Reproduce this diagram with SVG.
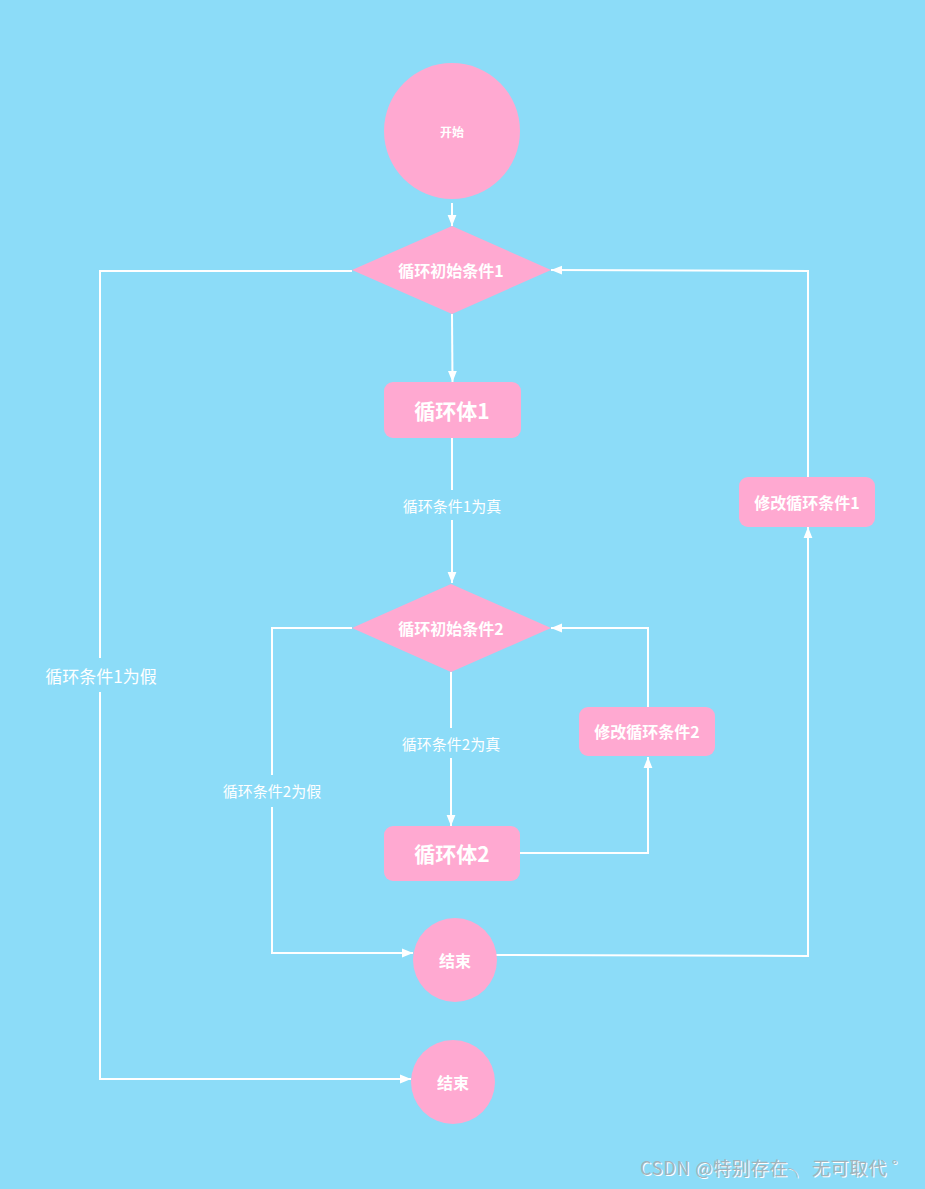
<svg xmlns="http://www.w3.org/2000/svg" width="925" height="1189" viewBox="0 0 925 1189">
<style>
.n{fill:#FFA9D1}
.t{fill:#fff;font-family:"Noto Sans CJK SC","Noto Sans",sans-serif;font-weight:bold;text-anchor:middle;dominant-baseline:central}
.l{fill:#fff;font-family:"Noto Sans CJK SC","Noto Sans",sans-serif;text-anchor:middle;dominant-baseline:central}
.c{fill:none;stroke:#fff;stroke-width:2}
.lb{fill:#8CDCF8}
</style>
<defs>
<marker id="ar" viewBox="0 0 10 10" refX="10" refY="5" markerWidth="11" markerHeight="11" orient="auto" markerUnits="userSpaceOnUse">
<path d="M0,1 L10,5 L0,9 z" fill="#fff"/>
</marker>
</defs>
<rect width="925" height="1189" fill="#8CDCF8"/>
<g id="connectors">
<path class="c" d="M452,203 V226" marker-end="url(#ar)"/>
<path class="c" d="M452,314 L452.5,382" marker-end="url(#ar)"/>
<path class="c" d="M452,438 V583" marker-end="url(#ar)"/>
<path class="c" d="M451,672 V826" marker-end="url(#ar)"/>
<path class="c" d="M519,853 H648 V757" marker-end="url(#ar)"/>
<path class="c" d="M648,707 V628 H551" marker-end="url(#ar)"/>
<path class="c" d="M352,628 H272 V953 H413" marker-end="url(#ar)"/>
<path class="c" d="M496,955 L808,956 V527" marker-end="url(#ar)"/>
<path class="c" d="M808,477 V271 L551,270" marker-end="url(#ar)"/>
<path class="c" d="M352,271 H100 V1079 H411" marker-end="url(#ar)"/>
<rect class="lb" x="395" y="490" width="115" height="30"/>
<text class="l" x="452" y="505" font-size="15">循环条件1为真</text>
<rect class="lb" x="395" y="728" width="115" height="30"/>
<text class="l" x="451" y="743" font-size="15">循环条件2为真</text>
<rect class="lb" x="215" y="775" width="115" height="32"/>
<text class="l" x="272" y="790" font-size="15">循环条件2为假</text>
<rect class="lb" x="40" y="658" width="122" height="34"/>
<text class="l" x="101" y="675" font-size="17">循环条件1为假</text>
</g>
<g id="start">
<circle class="n" cx="452" cy="131" r="68"/>
<text class="t" x="452" y="131" font-size="12">开始</text>
</g>
<g id="cond1">
<polygon class="n" points="452,226 551,270 452,314 352,270"/>
<text class="t" x="451" y="270" font-size="16">循环初始条件1</text>
</g>
<g id="body1">
<rect class="n" x="384" y="382" width="137" height="56" rx="9"/>
<text class="t" x="452" y="410" font-size="21">循环体1</text>
</g>
<g id="mod1">
<rect class="n" x="739" y="477" width="136" height="50" rx="9"/>
<text class="t" x="807" y="502" font-size="16">修改循环条件1</text>
</g>
<g id="cond2">
<polygon class="n" points="451,584 551,628 451,672 352,628"/>
<text class="t" x="451" y="628" font-size="16">循环初始条件2</text>
</g>
<g id="mod2">
<rect class="n" x="579" y="707" width="136" height="49" rx="9"/>
<text class="t" x="647" y="731" font-size="16">修改循环条件2</text>
</g>
<g id="body2">
<rect class="n" x="384" y="826" width="136" height="55" rx="9"/>
<text class="t" x="452" y="853" font-size="21">循环体2</text>
</g>
<g id="end1">
<circle class="n" cx="455" cy="960" r="42"/>
<text class="t" x="455" y="960" font-size="16">结束</text>
</g>
<g id="end2">
<circle class="n" cx="453" cy="1082" r="42"/>
<text class="t" x="453" y="1082" font-size="16">结束</text>
</g>
<g id="watermark" font-family="'Noto Sans CJK SC','Noto Sans',sans-serif" font-size="18">
<text x="641" y="1176" fill="#fff" textLength="270" lengthAdjust="spacing">CSDN @特别存在╮ 无可取代 ゜</text>
<text x="640" y="1175" fill="#A3B3BB" textLength="270" lengthAdjust="spacing">CSDN @特别存在╮ 无可取代 ゜</text>
</g>
</svg>
